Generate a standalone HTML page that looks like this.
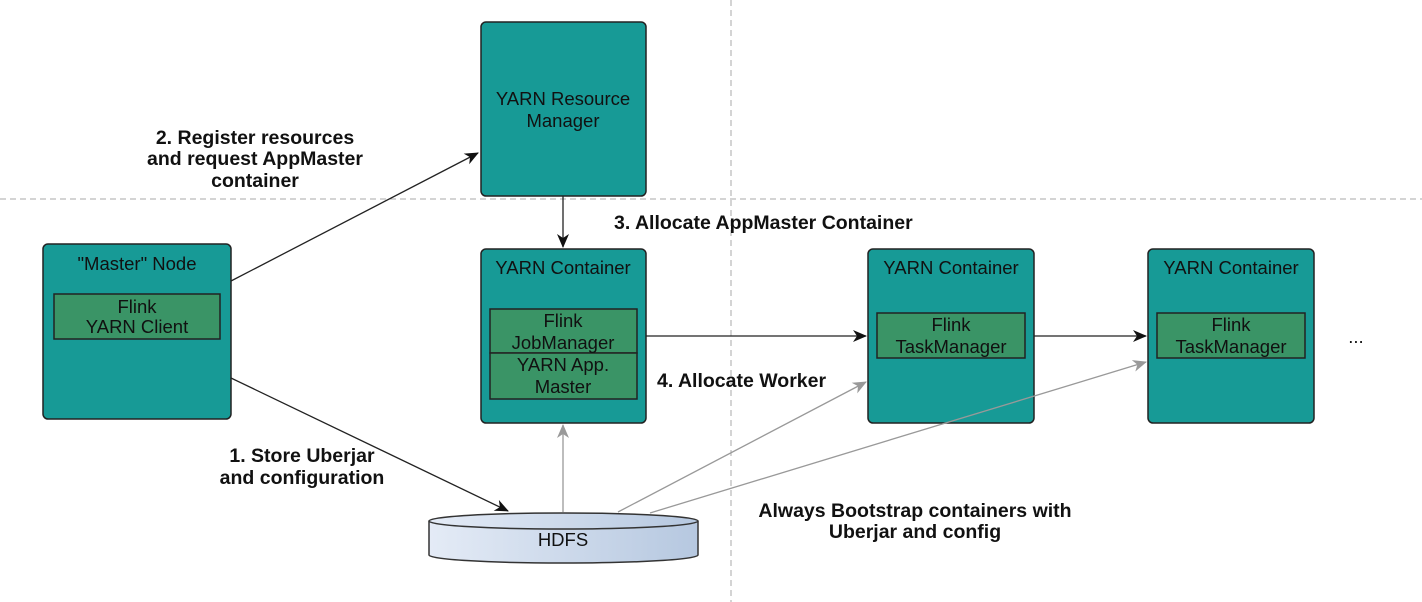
<!DOCTYPE html>
<html><head><meta charset="utf-8"><style>
body{margin:0;background:#fff;}
svg{display:block}
.n{font-family:"Liberation Sans",sans-serif;font-size:18.5px;fill:#111;text-anchor:middle}
.b{font-family:"Liberation Sans",sans-serif;font-size:19.5px;font-weight:bold;fill:#111}
</style></head><body>
<svg width="1422" height="602" viewBox="0 0 1422 602" xmlns="http://www.w3.org/2000/svg">
<defs>
<marker id="ak" markerWidth="14" markerHeight="12" refX="13" refY="6" orient="auto" markerUnits="userSpaceOnUse"><path d="M0,0 L14,6 L0,12 L4,6z" fill="#111"/></marker>
<marker id="ag" markerWidth="14" markerHeight="12" refX="13" refY="6" orient="auto" markerUnits="userSpaceOnUse"><path d="M0,0 L14,6 L0,12 L4,6z" fill="#999"/></marker>
<linearGradient id="hg" x1="0" x2="1"><stop offset="0" stop-color="#e4ebf6"/><stop offset="1" stop-color="#b6c8e0"/></linearGradient>
</defs>
<line x1="0" y1="199" x2="1422" y2="199" stroke="#aaa" stroke-dasharray="6,4"/>
<line x1="731" y1="0" x2="731" y2="602" stroke="#aaa" stroke-dasharray="6,4"/>
<g stroke="#222" stroke-width="1.5" fill="#179a96">
<rect x="43" y="244" width="188" height="175" rx="5"/>
<rect x="481" y="22" width="165" height="174" rx="5"/>
<rect x="481" y="249" width="165" height="174" rx="5"/>
<rect x="868" y="249" width="166" height="174" rx="5"/>
<rect x="1148" y="249" width="166" height="174" rx="5"/>
</g>
<g stroke="#222" stroke-width="1.5" fill="#3a9466">
<rect x="54" y="294" width="166" height="45"/>
<rect x="490" y="309" width="147" height="44"/>
<rect x="490" y="353" width="147" height="46"/>
<rect x="877" y="313" width="148" height="45"/>
<rect x="1157" y="313" width="148" height="45"/>
</g>
<path d="M429,521 L429,555 A134,8 0 0 0 698,555 L698,521" fill="url(#hg)" stroke="#333" stroke-width="1.5"/>
<ellipse cx="563.5" cy="521" rx="134.5" ry="8" fill="url(#hg)" stroke="#333" stroke-width="1.5"/>
<text class="n" x="563" y="546">HDFS</text>
<text class="n" x="137" y="270">"Master" Node</text>
<text class="n" x="137" y="313">Flink</text><text class="n" x="137" y="333">YARN Client</text>
<text class="n" x="563" y="105">YARN Resource</text><text class="n" x="563" y="127">Manager</text>
<text class="n" x="563" y="274">YARN Container</text>
<text class="n" x="563" y="327">Flink</text><text class="n" x="563" y="349">JobManager</text>
<text class="n" x="563" y="371">YARN App.</text><text class="n" x="563" y="393">Master</text>
<text class="n" x="951" y="274">YARN Container</text>
<text class="n" x="951" y="331">Flink</text><text class="n" x="951" y="353">TaskManager</text>
<text class="n" x="1231" y="274">YARN Container</text>
<text class="n" x="1231" y="331">Flink</text><text class="n" x="1231" y="353">TaskManager</text>
<text class="n" x="1356" y="343">...</text>
<g stroke="#222" stroke-width="1.3" fill="none" marker-end="url(#ak)">
<line x1="231" y1="281" x2="478" y2="153"/>
<line x1="231" y1="378" x2="508" y2="511"/>
<line x1="563" y1="196" x2="563" y2="247"/>
<line x1="646" y1="336" x2="866" y2="336"/>
<line x1="1034" y1="336" x2="1146" y2="336"/>
</g>
<g stroke="#999" stroke-width="1.3" fill="none" marker-end="url(#ag)">
<line x1="563" y1="512" x2="563" y2="425"/>
<line x1="618" y1="512" x2="866" y2="382"/>
<line x1="650" y1="513" x2="1146" y2="362"/>
</g>
<g class="b" text-anchor="middle">
<text x="255" y="144">2. Register resources</text>
<text x="255" y="165">and request AppMaster</text>
<text x="255" y="187">container</text>
<text x="302" y="462">1. Store Uberjar</text>
<text x="302" y="484">and configuration</text>
<text x="915" y="517">Always Bootstrap containers with</text>
<text x="915" y="538">Uberjar and config</text>
</g>
<text class="b" x="614" y="229">3. Allocate AppMaster Container</text>
<text class="b" x="657" y="387">4. Allocate Worker</text>
</svg>
</body></html>
